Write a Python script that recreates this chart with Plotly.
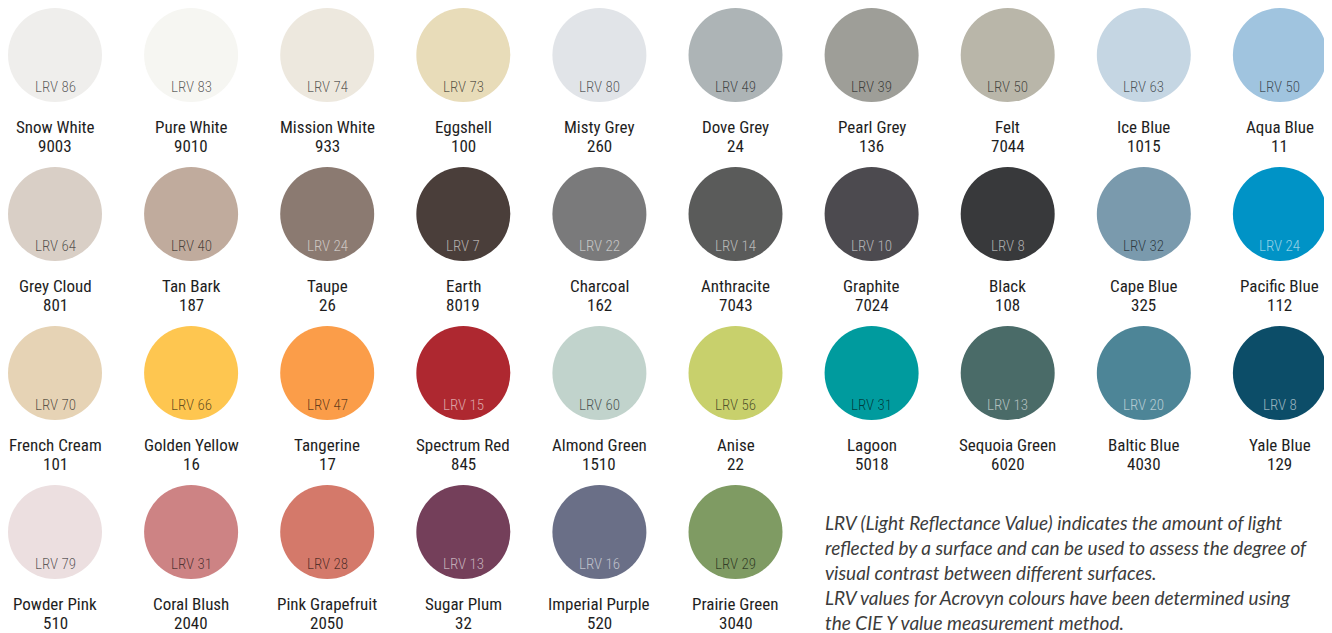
import plotly.graph_objects as go

names = ["Snow White", "Pure White", "Mission White", "Eggshell", "Misty Grey", "Dove Grey", "Pearl Grey", "Felt", "Ice Blue", "Aqua Blue",
         "Grey Cloud", "Tan Bark", "Taupe", "Earth", "Charcoal", "Anthracite", "Graphite", "Black", "Cape Blue", "Pacific Blue",
         "French Cream", "Golden Yellow", "Tangerine", "Spectrum Red", "Almond Green", "Anise", "Lagoon", "Sequoia Green", "Baltic Blue", "Yale Blue",
         "Powder Pink", "Coral Blush", "Pink Grapefruit", "Sugar Plum", "Imperial Purple", "Prairie Green"]
codes = ["9003", "9010", "933", "100", "260", "24", "136", "7044", "1015", "11",
         "801", "187", "26", "8019", "162", "7043", "7024", "108", "325", "112",
         "101", "16", "17", "845", "1510", "22", "5018", "6020", "4030", "129",
         "510", "2040", "2050", "32", "520", "3040"]
lrv = [86, 83, 74, 73, 80, 49, 39, 50, 63, 50,
       64, 40, 24, 7, 22, 14, 10, 8, 32, 24,
       70, 66, 47, 15, 60, 56, 31, 13, 20, 8,
       79, 31, 28, 13, 16, 29]
colors = ["#efeeec", "#f6f6f2", "#ede8de", "#e8dcb9", "#e1e4e8", "#adb4b6", "#9e9e98", "#b9b6a9", "#c5d6e3", "#a0c4df",
          "#d9cfc6", "#c0ab9d", "#8b7a71", "#4a3e3a", "#7a7a7b", "#5a5b5a", "#4c4a4f", "#38393b", "#7a9aad", "#0093c6",
          "#e6d3b5", "#fec650", "#fb9d49", "#ae2830", "#c1d3cc", "#c8d06c", "#009b9e", "#4a6b68", "#4d8597", "#0c4d68",
          "#ecdfe0", "#cd8384", "#d4796a", "#743f5a", "#6a6f87", "#7f9b63"]
note_lines = ["LRV (Light Reflectance Value) indicates the amount of light",
              "reflected by a surface and can be used to assess the degree of",
              "visual contrast between different surfaces.",
              "LRV values for Acrovyn colours have been determined using",
              "the CIE Y value measurement method."]

ncols = 10
cols = [i % ncols for i in range(len(names))]
rows = [i // ncols for i in range(len(names))]

# page body has an 8px margin; the figure starts at (8, 8) in the window
OFF = 8
W, H = 1332 - OFF, 633 - OFF
x0px, dx = 55 - OFF, 136.1
y0px, dy = 55 - OFF, 159

NAME_FONT = "Roboto Condensed, DejaVu Sans Condensed, Roboto, sans-serif"

fig = go.Figure()
fig.add_trace(go.Scatter(
    x=cols, y=rows, mode="markers",
    marker=dict(size=94, color=colors, line=dict(width=0)),
    hoverinfo="text", text=names, showlegend=False,
))

for l, col, row in zip(lrv, cols, rows):
    tc = "rgba(255,255,255,0.58)" if l <= 24 else "rgba(0,0,0,0.62)"
    fig.add_annotation(x=col, y=row, text=f"LRV {l}", showarrow=False,
                       yshift=-32, font=dict(family=NAME_FONT, size=15, color=tc, weight=300))
for n, c, col, row in zip(names, codes, cols, rows):
    fig.add_annotation(x=col, y=row, text=n, showarrow=False, yshift=-72,
                       font=dict(family=NAME_FONT, size=17, color="#1e1e1e", weight=400))
    fig.add_annotation(x=col, y=row, text=c, showarrow=False, yshift=-91,
                       font=dict(family=NAME_FONT, size=17, color="#1e1e1e", weight=400))

for i, line in enumerate(note_lines):
    fig.add_annotation(xref="paper", yref="paper", x=(823 - OFF) / W, y=1 - (522 - OFF + i * 25.2) / H,
                       xanchor="left", yanchor="middle", text=line, showarrow=False,
                       font=dict(family="Lato, sans-serif", size=19, color="#3c3c3c", style="italic"))

fig.update_layout(
    width=W, height=H, margin=dict(l=0, r=0, t=0, b=0),
    paper_bgcolor="white", plot_bgcolor="white",
    xaxis=dict(range=[-x0px / dx, (W - x0px) / dx], visible=False, fixedrange=True),
    yaxis=dict(range=[(H - y0px) / dy, -y0px / dy], visible=False, fixedrange=True),
)

fig.write_html("out.html", config={"displayModeBar": False})
